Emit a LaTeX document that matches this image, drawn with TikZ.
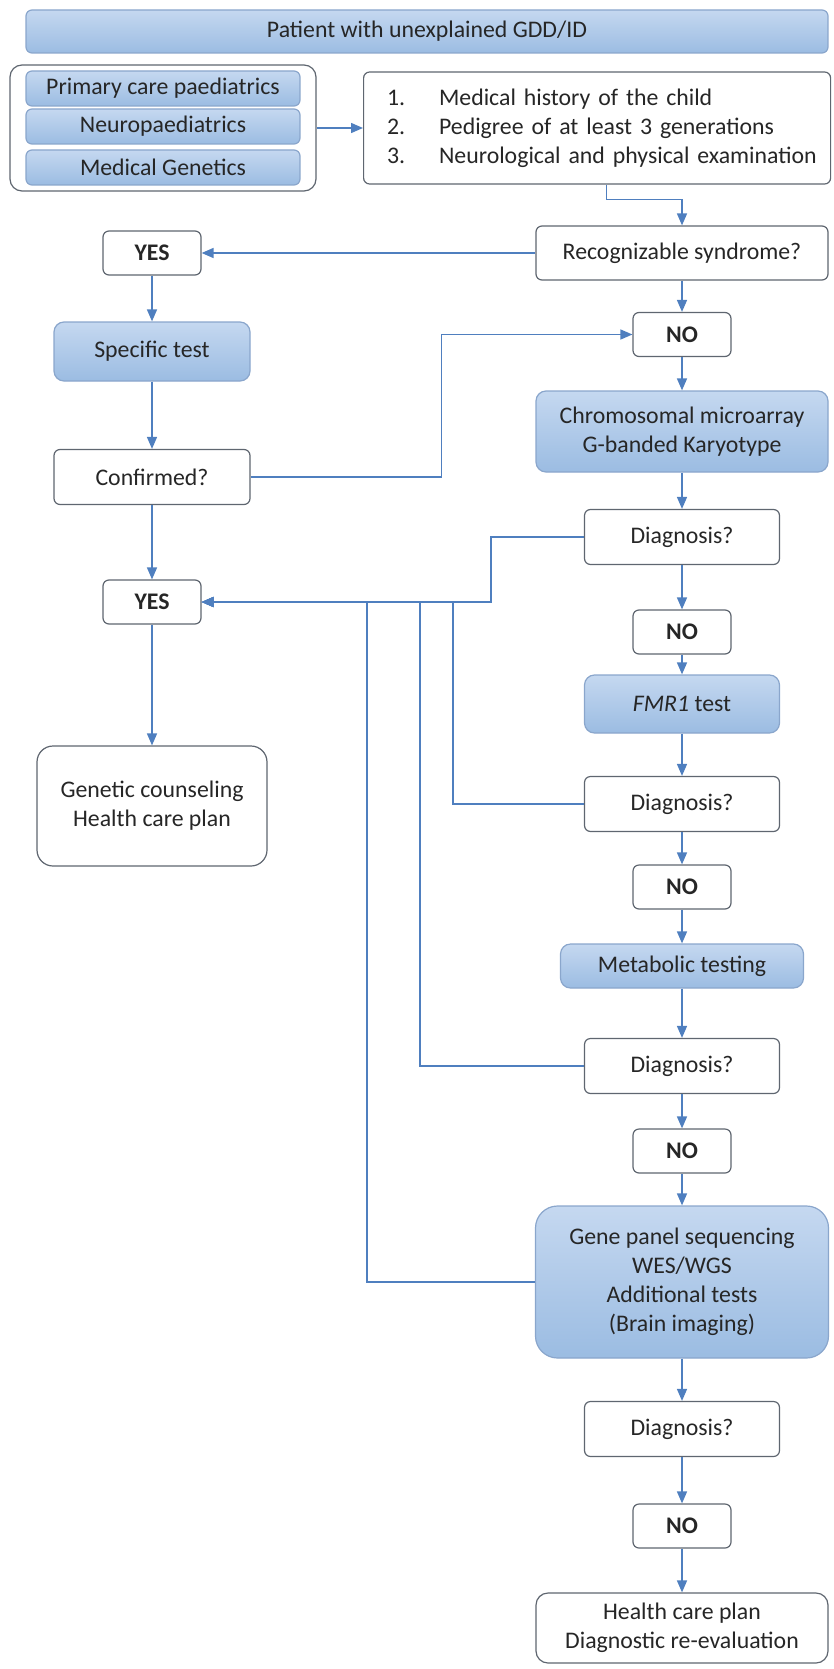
\documentclass[tikz,border=0pt]{standalone}
\usepackage{fontspec}
\setmainfont{Carlito}
\usetikzlibrary{positioning,arrows.meta}
\definecolor{lineblue}{HTML}{4F7FBF}
\definecolor{edgegray}{HTML}{5F6670}
\definecolor{blueedge}{HTML}{8AA6CC}
\definecolor{bluetop}{HTML}{C5D8F0}
\definecolor{bluebot}{HTML}{9BBCE2}
\newcommand{\stepno}[1]{\hspace*{7.5pt}\makebox[26pt][l]{#1}}

\begin{document}
\begin{tikzpicture}[x=0.5pt, y=-0.5pt,
font=\fontsize{11.9}{14.5}\selectfont, text=black!85,
infobox/.style={draw=edgegray, fill=white, rounded corners=3pt, align=center, inner sep=1pt, line width=0.6pt},
testbox/.style={infobox, draw=blueedge, top color=bluetop, bottom color=bluebot},
answer/.style={infobox, font=\fontsize{11.9}{14.5}\selectfont\bfseries, minimum width=49pt, minimum height=22pt},
question/.style={infobox, minimum width=97.5pt, minimum height=27.5pt},
link/.style={draw=lineblue, line width=0.75pt, -{Triangle[length=6pt,width=5pt]}},
]
\useasboundingbox (0,0) rectangle (834,1669);

\node[testbox, minimum width=401pt, minimum height=21.5pt] (patient) at (427,31.5) {Patient with unexplained GDD/ID};

% who sees the child
\node[infobox, rounded corners=6pt, minimum width=153pt, minimum height=63pt] (team) at (163,128) {};
\node[testbox, minimum width=137pt, minimum height=17.5pt] (primary) at (163,88.5) {Primary care paediatrics};
\node[testbox, minimum width=137pt, minimum height=17.5pt] (neuro) at (163,126.5) {Neuropaediatrics};
\node[testbox, minimum width=137pt, minimum height=17.5pt] (genetics) at (163,167.5) {Medical Genetics};

\node[infobox, anchor=west, align=left, text width=225pt, inner xsep=4.25pt, minimum height=56pt] (exam) at (363,128)
  {\stepno{1.}Medical history of the child\\ \stepno{2.}Pedigree of at least 3 generations\\ \stepno{3.}\mbox{Neurological and physical examination}};

% main column
\node[question, minimum width=146pt, minimum height=27pt] (recog) at (682,253) {Recognizable syndrome?};
\node[answer] (no1) at (682,334.5) {NO};
\node[testbox, rounded corners=5pt, minimum width=146pt, minimum height=40.5pt] (chrom) at (682,431.5) {Chromosomal microarray\\G-banded Karyotype};
\node[question] (diag1) at (682,537) {Diagnosis?};
\node[answer] (no2) at (682,632) {NO};
\node[testbox, rounded corners=5pt, minimum width=97.5pt, minimum height=29pt] (fmr) at (682,704) {\textit{FMR1} test};
\node[question] (diag2) at (682,804) {Diagnosis?};
\node[answer] (no3) at (682,887) {NO};
\node[testbox, rounded corners=5pt, minimum width=121.5pt, minimum height=22pt] (metab) at (682,966) {Metabolic testing};
\node[question] (diag3) at (682,1066) {Diagnosis?};
\node[answer] (no4) at (682,1151) {NO};
\node[testbox, rounded corners=11pt, minimum width=146.5pt, minimum height=76pt] (gene) at (682,1282)
  {Gene panel sequencing\\WES/WGS\\Additional tests\\(Brain imaging)};
\node[question] (diag4) at (682,1429) {Diagnosis?};
\node[answer] (no5) at (682,1526) {NO};
\node[infobox, rounded corners=6pt, minimum width=146pt, minimum height=35pt] (health) at (682,1628) {Health care plan\\Diagnostic re-evaluation};

% left column
\node[answer] (yes1) at (152,253) {YES};
\node[testbox, rounded corners=5pt, minimum width=98pt, minimum height=29.5pt] (specific) at (152,351.5) {Specific test};
\node[question, minimum width=98pt] (confirmed) at (152,477) {Confirmed?};
\node[answer] (yes2) at (152,602) {YES};
\node[infobox, rounded corners=8pt, minimum width=115pt, minimum height=60pt] (genetic) at (152,806) {Genetic counseling\\Health care plan};

\draw[link] (team) -- (exam);
\draw[link] ([xshift=4.75pt]exam.south) -- ++(0,15) -| (recog);
\draw[link] (recog) -- (yes1);
\foreach \a/\b in {recog/no1, no1/chrom, chrom/diag1, diag1/no2, no2/fmr, fmr/diag2, diag2/no3,
  no3/metab, metab/diag3, diag3/no4, no4/gene, gene/diag4, diag4/no5, no5/health,
  yes1/specific, specific/confirmed, confirmed/yes2, yes2/genetic}
  \draw[link] (\a) -- (\b);
\draw[link] (confirmed.east) -- ++(191,0) |- (no1);

% back to YES
\draw[link] (diag1.west) -- ++(-93,0) |- (yes2);
\draw[link] (diag2.west) -- ++(-131,0) |- (yes2);
\draw[link] (diag3.west) -- ++(-164,0) |- (yes2);
\draw[link] (gene.west) -- ++(-168,0) |- (yes2);

\end{tikzpicture}
\end{document}
